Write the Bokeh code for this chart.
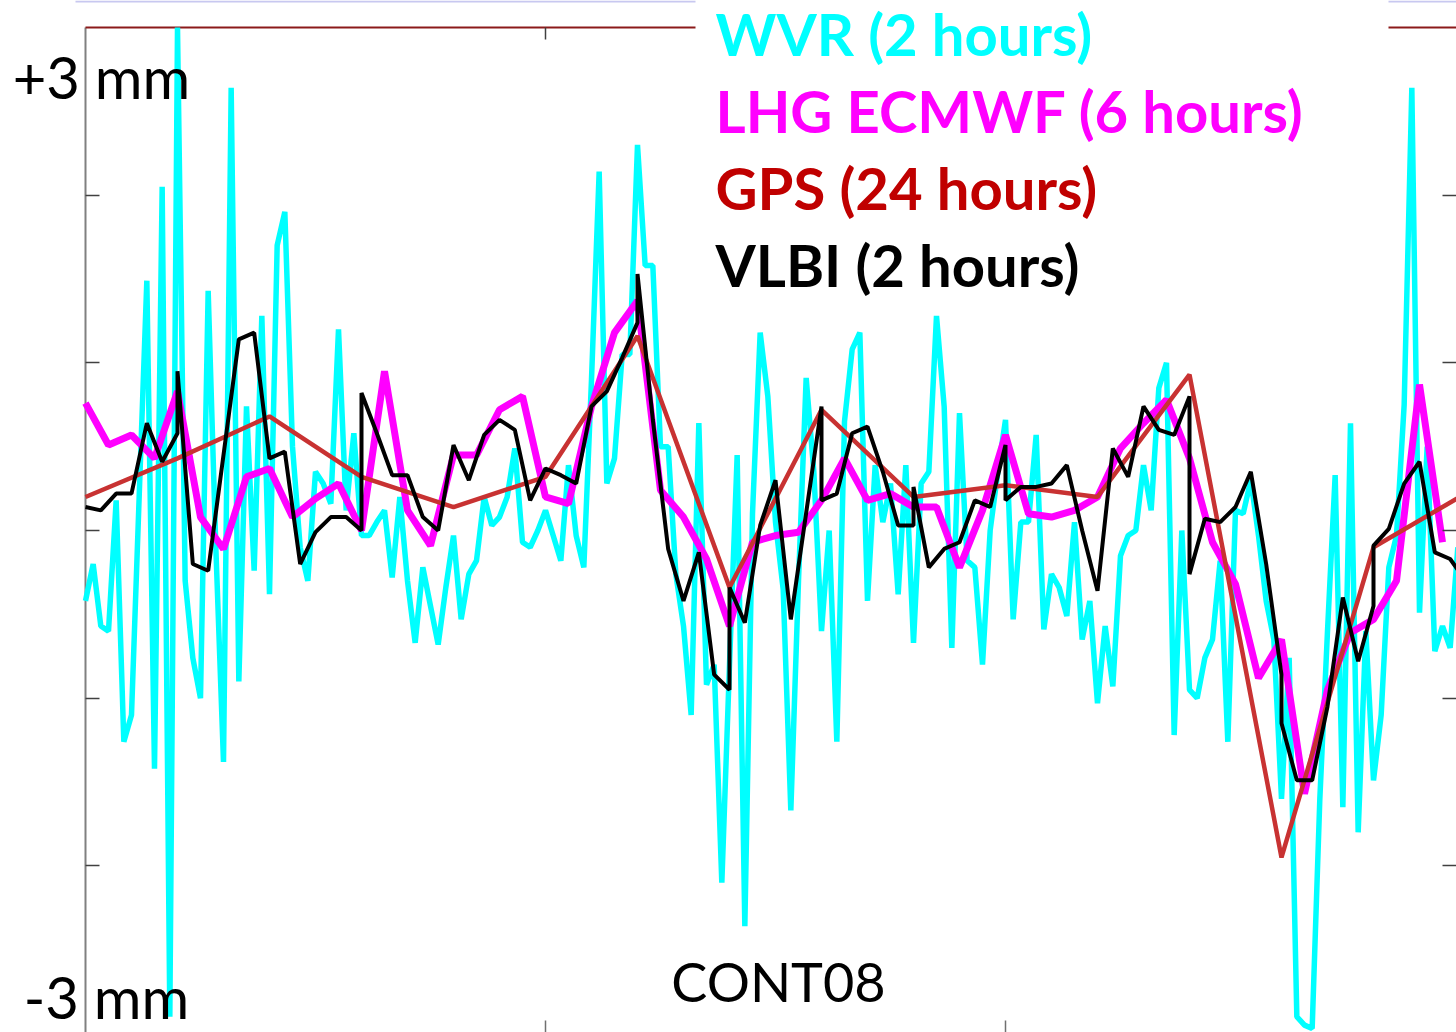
import numpy as np
from bokeh.plotting import figure
from bokeh.models import (Range1d, LinearAxis, FixedTicker, Label, CustomJSTickFormatter)
from bokeh.embed import file_html
from bokeh.resources import INLINE

# ---------------- data (mm) ----------------
# WVR, 2-hourly samples starting at day 0
wvr_mm = [
    -0.42, -0.2, -0.57, -0.6, 0.18, -1.26, -1.1, 0.2, 1.49, -1.42,
    2.05, -2.9, 3.0, -0.3, -0.76, -1.0, 1.43, -0.1, -1.38, 2.64,
    -0.9, 0.74, -0.24, 1.28, -0.38, 1.7, 1.9, 0.5, -0.1, -0.3,
    0.35, 0.28, 0.16, 1.2, 0.12, 0.58, -0.03, -0.03, 0.05, 0.12,
    -0.28, 0.2, -0.3, -0.67, -0.22, -0.45, -0.68, -0.34, -0.03, -0.53,
    -0.26, -0.18, 0.2, 0.03, 0.08, 0.2, 0.49, -0.07, -0.1, 0.0,
    0.12, -0.03, -0.18, 0.39, -0.03, -0.22, 0.9, 2.14, 0.28, 0.43,
    1.05, 1.05, 2.3, 1.58, 1.58, 0.5, 0.5, -0.26, -0.57, -1.1,
    0.64, -0.92, -0.8, -2.1, -0.8, 0.45, -2.36, 0.1, 1.18, 0.8,
    0.05, -0.35, -1.67, -0.3, 0.91, 0.35, -0.6, 0.0, -1.26, 0.65,
    1.08, 1.18, -0.42, 0.39, 0.05, 0.28, -0.38, 0.39, -0.67, 0.28,
    0.35, 1.28, 0.74, -0.7, 0.7, -0.18, -0.22, -0.8, 0.0, 0.35,
    0.66, -0.53, 0.05, 0.05, 0.57, -0.59, -0.26, -0.34, -0.51, 0.05,
    -0.65, -0.42, -1.03, -0.57, -0.93, -0.15, -0.03, 0.0, 0.39, 0.12,
    0.85, 1.0, -1.22, 0.0, -0.95, -1.0, -0.76, -0.65, -0.18, -1.26,
    0.12, 0.1, 0.3, -0.03, -0.42, -0.65, -1.6, -0.76, -2.9, -2.95,
    -2.97, -1.6, -0.6, 0.33, -1.65, 0.64, -1.8, -0.6, -1.49, -1.1,
    -0.22, -0.03, 0.75, 2.64, -0.49, 0.5, -0.72, -0.57, -0.7, -0.1,
]
wvr_step_h = 2

# LHG ECMWF, 6-hourly samples starting at day 0
lhg_mm = [
    0.76, 0.51, 0.57, 0.43, 0.83, 0.08, -0.11, 0.32, 0.37, 0.08,
    0.19, 0.28, 0.0, 0.95, 0.12, -0.09, 0.45, 0.45, 0.72, 0.8,
    0.2, 0.16, 0.74, 1.18, 1.37, 0.24, 0.08, -0.17, -0.57, -0.07,
    -0.03, -0.01, 0.18, 0.43, 0.18, 0.22, 0.14, 0.14, -0.22, 0.12,
    0.57, 0.1, 0.08, 0.12, 0.2, 0.49, 0.64, 0.78, 0.43, -0.07,
    -0.32, -0.88, -0.65, -1.57, -0.95, -0.61, -0.53, -0.3, 0.87, -0.07,
]
lhg_step_h = 6

# GPS, daily values
gps_mm = [0.2, 0.43, 0.68, 0.32, 0.14, 0.32, 1.16, -0.34, 0.72, 0.2,
          0.27, 0.2, 0.93, -1.95, -0.1, 0.22]
gps_step_h = 24

# VLBI, hours since start (session boundaries repeat the hour)
vlbi_hours = [0, 4, 8, 12, 16, 20, 24, 24, 28, 32, 40, 44, 48, 52, 56, 60,
              64, 68, 72, 72, 76, 80, 84, 88, 92, 96, 100, 104, 108, 112, 116, 120,
              124, 128, 132, 136, 140, 144, 144, 148, 152, 156, 160, 164, 168, 168,
              172, 176, 180, 184, 192, 192, 196, 200, 204, 208, 212, 216, 216,
              220, 224, 228, 232, 236, 240, 240, 244, 248, 252, 256, 260, 264,
              268, 272, 276, 280, 284, 288, 288, 292, 296, 300, 304, 308, 312, 312,
              316, 320, 324, 328, 332, 336, 336, 340, 344, 348, 352, 356, 360]
vlbi_mm = [0.14, 0.12, 0.22, 0.22, 0.64, 0.41, 0.58, 0.95, -0.2, -0.24, 1.14, 1.18,
           0.43, 0.47, -0.2, -0.01, 0.08, 0.08, 0.0, 0.82, 0.58, 0.33, 0.33, 0.08,
           0.0, 0.51, 0.3, 0.57, 0.66, 0.6, 0.18, 0.37, 0.33, 0.28, 0.74, 0.83,
           1.03, 1.24, 1.53, 0.66, -0.11, -0.42, -0.13, -0.86, -0.95, -0.34,
           -0.55, 0.03, 0.3, -0.53, 0.74, 0.18, 0.22, 0.58, 0.62, 0.35, 0.03,
           0.03, 0.26, -0.22, -0.11, -0.07, 0.18, 0.14, 0.51, 0.18, 0.26, 0.26,
           0.28, 0.39, 0.0, -0.36, 0.49, 0.32, 0.74, 0.6, 0.57, 0.8, -0.26,
           0.07, 0.05, 0.14, 0.35, -0.2, -0.86, -1.15, -1.49, -1.49, -1.05,
           -0.4, -0.78, -0.45, -0.09, 0.01, 0.28, 0.41, -0.13, -0.17, -0.3]

legend_texts = ["WVR (2 hours)", "LHG ECMWF (6 hours)", "GPS (24 hours)", "VLBI (2 hours)"]
legend_colors = ["#00FFFF", "#FF00FF", "#C00000", "#000000"]
y_ticks = [-2, -1, 0, 1, 2]
x_ticks = [5, 10]
y_limit = 3

# ---------------- layout constants ----------------
W, H = 1456, 1032
LEFT, TOP = 85, 27
PX_DAY = 92.0
PX_MM = 167.67
ZERO_PY = 530.0
FONT = "Lato"
BASE_SHIFT = 22   # correction between wanted baseline and rendered one


def dx(px):
    return (px - LEFT) / PX_DAY


def dy(py):
    return (ZERO_PY - py) / PX_MM


x_end = dx(W)

p = figure(width=W, height=H, x_range=Range1d(dx(0), x_end), y_range=Range1d(dy(H), dy(0)),
           output_backend="svg", toolbar_location=None,
           x_axis_location=None, y_axis_location=None,
           min_border_left=0, min_border_top=0, min_border_right=0, min_border_bottom=0,
           outline_line_color=None, background_fill_color="white", border_fill_color="white")
p.xgrid.visible = False
p.ygrid.visible = False

blank = CustomJSTickFormatter(code="return ''")


def make_axis(ticks, tick_len, tick_color, fixed=None):
    ax = LinearAxis(ticker=FixedTicker(ticks=ticks), formatter=blank,
                    axis_line_color=None,
                    major_tick_in=tick_len, major_tick_out=0,
                    major_tick_line_color=tick_color, major_tick_line_width=1.5,
                    minor_tick_line_color=None,
                    major_label_text_font_size="0px", major_label_standoff=0)
    if fixed is not None:
        ax.fixed_location = fixed
    return ax


p.add_layout(make_axis(y_ticks, 14, "#404040", fixed=0), "left")
p.add_layout(make_axis(y_ticks, 14, "#404040"), "right")
p.add_layout(make_axis(x_ticks, 12, "#707070"), "below")
p.add_layout(make_axis(x_ticks, 12, "#404040", fixed=y_limit), "above")

# left frame line and top border (interrupted by the white text box)
p.segment(x0=[0], y0=[-y_limit - 0.2], x1=[0], y1=[y_limit], line_color="#808080", line_width=2)
gap_l, gap_r = dx(695), dx(1388)
p.segment(x0=[0, gap_r], y0=[y_limit, y_limit], x1=[gap_l, x_end], y1=[y_limit, y_limit],
          line_color="#8B1A1A", line_width=2)
# lavender strip at the very top of the slide
p.segment(x0=[dx(75), gap_r], y0=[dy(1)] * 2, x1=[gap_l, x_end], y1=[dy(1)] * 2,
          line_color="#C8C8F0", line_width=2)

# series
t_wvr = np.arange(len(wvr_mm)) * wvr_step_h / 24.0
t_lhg = np.arange(len(lhg_mm)) * lhg_step_h / 24.0
t_gps = np.arange(len(gps_mm)) * gps_step_h / 24.0
t_vlbi = np.array(vlbi_hours) / 24.0

p.line(t_wvr, wvr_mm, line_color="#00FFFF", line_width=5.5)
p.line(t_lhg, lhg_mm, line_color="#FF00FF", line_width=7)
p.line(t_gps, gps_mm, line_color="#C83232", line_width=4.5)
p.line(t_vlbi, vlbi_mm, line_color="#000000", line_width=4)

# texts
for txt, col, base in zip(legend_texts, legend_colors, [55, 132, 209, 286]):
    p.add_layout(Label(x=dx(715), y=dy(base - BASE_SHIFT), text=txt, text_color=col,
                       text_font=FONT, text_font_size="58px", text_font_style="bold",
                       text_align="left", text_baseline="alphabetic"))

for txt, cx, base, fs in [("+3 mm", 101, 98, "58px"), ("-3 mm", 106, 1018, "58px"),
                          ("CONT08", 778, 1003, "54px")]:
    p.add_layout(Label(x=dx(cx), y=dy(base - BASE_SHIFT), text=txt, text_color="black",
                       text_font=FONT, text_font_size=fs,
                       text_align="center", text_baseline="alphabetic"))

open("out.html", "w").write(file_html(p, INLINE))
